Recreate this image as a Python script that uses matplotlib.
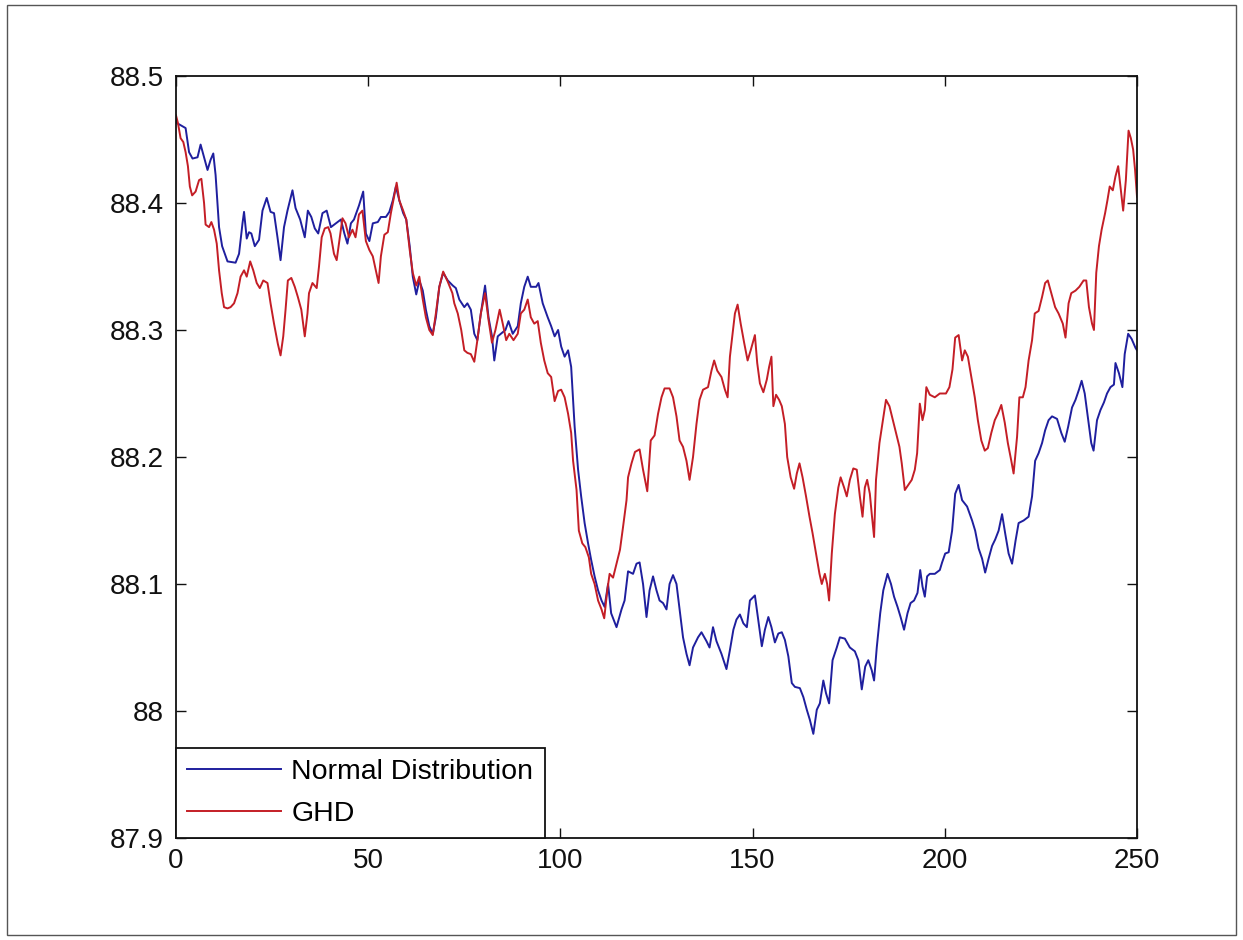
import matplotlib
matplotlib.use("Agg")
import matplotlib.pyplot as plt
from matplotlib.patches import Rectangle

# ---- data ----
normal_x = [0.0, 0.2, 2.5, 3.4, 4.3, 5.6, 6.4, 7.3, 8.2, 9.0, 9.7, 10.3, 11.2, 12.0, 13.4, 15.5, 16.4, 17.3,
            17.7, 18.4, 19.0, 19.6, 20.5, 21.6, 22.5, 23.6, 24.6, 25.5, 26.4, 27.2, 28.1, 29.0, 30.3, 31.1,
            32.3, 33.5, 34.3, 35.2, 36.1, 37.0, 38.1, 39.2, 40.3, 41.6, 42.9, 43.8, 44.6, 45.5, 46.3, 47.6,
            48.7, 49.4, 50.3, 51.2, 52.5, 53.3, 54.6, 55.5, 56.4, 57.2, 58.1, 59.1, 59.9, 60.8, 61.6, 62.5,
            63.3, 64.2, 65.0, 65.9, 66.8, 67.6, 68.5, 69.5, 70.7, 72.0, 72.8, 73.7, 75.0, 75.8, 76.7, 77.6,
            78.4, 79.3, 80.4, 81.3, 82.2, 82.8, 83.7, 84.5, 85.7, 86.5, 87.6, 88.9, 89.7, 90.6, 91.5, 92.3,
            93.7, 94.3, 95.4, 96.7, 97.6, 98.5, 99.4, 100.2, 101.1, 102.0, 102.8, 103.7, 104.6, 105.4,
            106.3, 107.2, 108.0, 108.9, 109.8, 110.7, 111.5, 112.4, 113.2, 114.6, 115.9, 116.7, 117.6,
            118.9, 119.8, 120.6, 121.5, 122.4, 123.2, 124.1, 125.0, 125.8, 126.7, 127.6, 128.4, 129.3,
            130.2, 131.0, 131.9, 132.8, 133.6, 134.5, 135.8, 136.7, 138.0, 138.8, 139.7, 140.6, 141.9,
            143.2, 144.1, 145.0, 145.8, 146.7, 147.6, 148.5, 149.3, 150.6, 151.5, 152.4, 153.2, 154.1,
            154.9, 155.8, 156.7, 157.6, 158.4, 159.3, 160.2, 161.0, 162.3, 163.2, 164.1, 164.9, 165.8,
            166.7, 167.5, 168.4, 169.1, 169.9, 170.8, 171.9, 172.7, 174.0, 175.3, 176.6, 177.5, 178.4,
            179.3, 180.1, 181.0, 181.6, 182.3, 183.2, 184.0, 185.1, 186.0, 186.8, 187.7, 188.5, 189.4,
            190.3, 191.1, 192.0, 192.9, 193.6, 194.2, 194.8, 195.4, 196.1, 197.4, 198.7, 199.3, 200.1,
            201.0, 201.9, 202.7, 203.6, 204.5, 205.8, 207.1, 207.9, 208.8, 209.7, 210.5, 211.4, 212.3,
            213.1, 214.0, 214.9, 215.7, 216.6, 217.5, 218.4, 219.2, 220.5, 221.8, 222.7, 223.5, 224.4,
            225.3, 226.1, 227.0, 227.9, 229.2, 230.3, 231.2, 232.1, 233.1, 234.0, 234.9, 235.6, 236.4,
            237.3, 238.1, 238.7, 239.6, 240.5, 241.4, 242.2, 243.1, 244.0, 244.4, 245.3, 246.2, 246.8,
            247.7, 248.6, 249.6, 250.0]
normal_y = [88.466, 88.463, 88.459, 88.440, 88.435, 88.436, 88.446, 88.436, 88.426, 88.434, 88.439, 88.422,
            88.381, 88.366, 88.354, 88.353, 88.360, 88.384, 88.393, 88.372, 88.377, 88.376, 88.366, 88.371,
            88.394, 88.404, 88.393, 88.392, 88.373, 88.355, 88.381, 88.394, 88.410, 88.396, 88.387, 88.373,
            88.394, 88.389, 88.380, 88.376, 88.392, 88.394, 88.381, 88.384, 88.387, 88.376, 88.368, 88.384,
            88.387, 88.398, 88.409, 88.376, 88.370, 88.384, 88.385, 88.389, 88.389, 88.393, 88.402, 88.413,
            88.402, 88.392, 88.387, 88.366, 88.342, 88.328, 88.339, 88.331, 88.316, 88.303, 88.297, 88.310,
            88.334, 88.345, 88.339, 88.335, 88.333, 88.324, 88.318, 88.321, 88.316, 88.297, 88.292, 88.313,
            88.335, 88.310, 88.295, 88.276, 88.295, 88.297, 88.300, 88.307, 88.297, 88.303, 88.321, 88.334,
            88.342, 88.334, 88.334, 88.337, 88.321, 88.310, 88.303, 88.295, 88.300, 88.287, 88.279, 88.284,
            88.271, 88.224, 88.190, 88.169, 88.148, 88.132, 88.119, 88.106, 88.095, 88.087, 88.082, 88.100,
            88.077, 88.066, 88.080, 88.087, 88.110, 88.108, 88.116, 88.117, 88.100, 88.074, 88.095, 88.106,
            88.095, 88.087, 88.085, 88.080, 88.100, 88.107, 88.100, 88.080, 88.058, 88.045, 88.036, 88.050,
            88.058, 88.062, 88.055, 88.050, 88.066, 88.055, 88.045, 88.033, 88.048, 88.064, 88.072, 88.076,
            88.069, 88.066, 88.087, 88.091, 88.071, 88.051, 88.064, 88.074, 88.066, 88.054, 88.061, 88.062,
            88.056, 88.043, 88.022, 88.019, 88.018, 88.011, 88.001, 87.993, 87.982, 88.001, 88.006, 88.024,
            88.014, 88.006, 88.040, 88.050, 88.058, 88.057, 88.050, 88.047, 88.040, 88.017, 88.035, 88.040,
            88.032, 88.024, 88.050, 88.077, 88.095, 88.108, 88.100, 88.090, 88.082, 88.074, 88.064, 88.077,
            88.085, 88.087, 88.093, 88.111, 88.098, 88.090, 88.106, 88.108, 88.108, 88.111, 88.117, 88.124,
            88.125, 88.142, 88.171, 88.178, 88.166, 88.161, 88.150, 88.142, 88.128, 88.120, 88.109, 88.120,
            88.130, 88.135, 88.142, 88.155, 88.140, 88.124, 88.116, 88.134, 88.148, 88.150, 88.153, 88.169,
            88.197, 88.203, 88.211, 88.221, 88.229, 88.232, 88.230, 88.219, 88.212, 88.224, 88.239, 88.245,
            88.253, 88.260, 88.250, 88.229, 88.211, 88.205, 88.229, 88.237, 88.243, 88.250, 88.255, 88.257,
            88.274, 88.266, 88.255, 88.281, 88.297, 88.293, 88.286, 88.284]

ghd_x = [0.0, 0.5, 1.2, 1.9, 2.5, 3.1, 3.6, 4.2, 5.1, 6.0, 6.6, 7.3, 7.7, 8.6, 9.2, 9.9, 10.6, 11.2, 11.9,
         12.5, 13.4, 14.2, 15.1, 16.0, 16.8, 17.7, 18.4, 19.3, 20.1, 21.0, 21.8, 22.7, 23.8, 24.6, 25.5,
         26.5, 27.2, 27.9, 28.5, 29.1, 30.0, 30.9, 31.7, 32.6, 33.5, 34.2, 34.6, 35.5, 36.6, 37.2, 37.9,
         38.7, 39.6, 40.2, 41.1, 41.8, 42.4, 43.3, 44.1, 45.0, 45.9, 46.7, 47.6, 48.5, 49.4, 50.3, 51.2,
         52.0, 52.7, 53.3, 54.2, 55.1, 55.9, 56.8, 57.4, 58.1, 59.1, 59.9, 60.8, 61.6, 62.5, 63.3, 64.2,
         65.0, 65.9, 66.8, 67.6, 68.5, 69.5, 70.7, 71.9, 72.4, 73.3, 74.2, 75.0, 75.8, 76.7, 77.6, 78.4,
         79.3, 80.4, 81.3, 82.2, 83.1, 84.2, 85.0, 85.9, 86.7, 87.8, 88.9, 89.7, 90.6, 91.5, 92.3, 93.2,
         94.1, 94.9, 95.8, 96.7, 97.6, 98.5, 99.4, 100.2, 101.1, 102.0, 102.8, 103.3, 104.2, 104.8, 105.7,
         106.5, 107.4, 108.0, 108.9, 109.8, 110.7, 111.4, 112.2, 112.8, 113.7, 114.6, 115.5, 116.3,
         117.2, 117.6, 118.5, 119.4, 120.6, 121.5, 122.6, 123.5, 124.5, 125.4, 126.3, 127.1, 128.4,
         129.3, 130.2, 131.0, 131.9, 132.8, 133.6, 134.5, 135.4, 136.2, 137.1, 138.4, 139.3, 140.0,
         140.8, 141.9, 142.8, 143.5, 144.1, 144.7, 145.4, 146.1, 146.9, 147.8, 148.7, 149.5, 150.6,
         151.2, 151.9, 152.8, 153.7, 154.3, 154.9, 155.4, 156.1, 156.9, 157.6, 158.4, 159.0, 159.9,
         160.8, 161.5, 162.2, 163.0, 163.9, 164.8, 165.6, 166.5, 167.4, 168.0, 168.8, 169.4, 169.9,
         170.6, 171.4, 172.3, 172.9, 173.8, 174.5, 175.3, 176.2, 177.1, 177.9, 178.6, 179.2, 179.8,
         180.5, 181.0, 181.6, 182.1, 183.0, 183.9, 184.7, 185.6, 186.5, 187.3, 188.2, 188.8, 189.6,
         190.5, 191.4, 192.2, 192.8, 193.5, 194.2, 194.8, 195.2, 196.1, 197.4, 198.7, 200.3, 201.2,
         202.0, 202.7, 203.6, 204.5, 205.2, 206.0, 206.9, 207.8, 208.6, 209.5, 210.4, 211.2, 212.1,
         213.0, 213.8, 214.7, 215.6, 216.4, 217.3, 217.9, 218.8, 219.4, 220.3, 221.0, 221.8, 222.7,
         223.4, 224.4, 225.3, 226.1, 226.8, 227.7, 228.7, 229.6, 230.7, 231.4, 232.2, 232.9, 234.0,
         235.0, 236.1, 236.8, 237.5, 238.3, 238.8, 239.4, 240.1, 240.8, 241.7, 242.3, 242.9, 243.7,
         244.4, 245.1, 245.8, 246.4, 247.1, 247.8, 248.4, 249.0, 249.5, 250.0]
ghd_y = [88.469, 88.463, 88.451, 88.448, 88.440, 88.429, 88.413, 88.406, 88.409, 88.418, 88.419, 88.400,
         88.383, 88.381, 88.385, 88.379, 88.368, 88.347, 88.329, 88.318, 88.317, 88.318, 88.321, 88.329,
         88.342, 88.347, 88.342, 88.354, 88.347, 88.337, 88.333, 88.339, 88.337, 88.321, 88.305, 88.289,
         88.280, 88.295, 88.316, 88.339, 88.341, 88.334, 88.326, 88.316, 88.295, 88.313, 88.329, 88.337,
         88.333, 88.350, 88.373, 88.380, 88.381, 88.376, 88.360, 88.355, 88.368, 88.388, 88.384, 88.373,
         88.379, 88.373, 88.391, 88.394, 88.370, 88.363, 88.358, 88.347, 88.337, 88.358, 88.375, 88.377,
         88.392, 88.406, 88.416, 88.402, 88.394, 88.387, 88.363, 88.345, 88.335, 88.342, 88.324, 88.310,
         88.300, 88.296, 88.313, 88.334, 88.346, 88.338, 88.329, 88.321, 88.313, 88.300, 88.284, 88.282,
         88.281, 88.275, 88.292, 88.313, 88.329, 88.308, 88.290, 88.300, 88.316, 88.305, 88.292, 88.297,
         88.292, 88.297, 88.313, 88.316, 88.324, 88.310, 88.305, 88.307, 88.290, 88.276, 88.266, 88.263,
         88.244, 88.252, 88.253, 88.247, 88.234, 88.219, 88.197, 88.174, 88.142, 88.132, 88.129, 88.121,
         88.108, 88.100, 88.087, 88.080, 88.073, 88.095, 88.108, 88.105, 88.116, 88.127, 88.145, 88.166,
         88.184, 88.195, 88.204, 88.206, 88.190, 88.173, 88.213, 88.217, 88.234, 88.247, 88.254, 88.254,
         88.247, 88.232, 88.213, 88.208, 88.197, 88.182, 88.200, 88.226, 88.245, 88.253, 88.255, 88.268,
         88.276, 88.268, 88.263, 88.253, 88.247, 88.279, 88.295, 88.313, 88.320, 88.305, 88.290, 88.276,
         88.284, 88.296, 88.274, 88.258, 88.251, 88.261, 88.271, 88.279, 88.240, 88.249, 88.245, 88.240,
         88.226, 88.200, 88.184, 88.175, 88.187, 88.195, 88.184, 88.169, 88.153, 88.140, 88.124, 88.108,
         88.100, 88.108, 88.100, 88.087, 88.124, 88.155, 88.176, 88.184, 88.176, 88.169, 88.182, 88.191,
         88.190, 88.169, 88.153, 88.176, 88.182, 88.171, 88.155, 88.137, 88.182, 88.211, 88.229, 88.245,
         88.240, 88.229, 88.219, 88.208, 88.195, 88.174, 88.178, 88.182, 88.190, 88.203, 88.242, 88.229,
         88.237, 88.255, 88.249, 88.247, 88.250, 88.250, 88.255, 88.269, 88.294, 88.296, 88.276, 88.284,
         88.279, 88.263, 88.247, 88.229, 88.213, 88.205, 88.207, 88.219, 88.229, 88.234, 88.241, 88.227,
         88.211, 88.197, 88.187, 88.216, 88.247, 88.247, 88.255, 88.276, 88.292, 88.313, 88.315, 88.326,
         88.337, 88.339, 88.329, 88.318, 88.313, 88.305, 88.294, 88.321, 88.329, 88.331, 88.334, 88.339,
         88.339, 88.318, 88.305, 88.300, 88.345, 88.366, 88.379, 88.392, 88.402, 88.413, 88.410, 88.421,
         88.429, 88.410, 88.394, 88.418, 88.457, 88.451, 88.442, 88.426, 88.405]

series_labels = ["Normal Distribution", "GHD"]
x_ticks = [0, 50, 100, 150, 200, 250]
y_ticks = [87.9, 88.0, 88.1, 88.2, 88.3, 88.4, 88.5]
y_tick_labels = ["87.9", "88", "88.1", "88.2", "88.3", "88.4", "88.5"]

# ---- figure ----
W, H = 1243, 940
fig = plt.figure(figsize=(W / 100, H / 100), dpi=100)
fig.patch.set_facecolor("white")
fig.patches.append(Rectangle((7 / W, 1 - 935 / H), (1236 - 7) / W, (935 - 5) / H,
                             transform=fig.transFigure, fill=False,
                             edgecolor="#555555", linewidth=1.0))

ax = fig.add_axes([176 / W, 1 - 838 / H, (1137 - 176) / W, (838 - 76) / H])
ax.plot(normal_x, normal_y, color="#1f1f9e", linewidth=1.4, label=series_labels[0])
ax.plot(ghd_x, ghd_y, color="#c41e26", linewidth=1.4, label=series_labels[1])

ax.set_xlim(0, 250)
ax.set_ylim(87.9, 88.5)
ax.set_xticks(x_ticks)
ax.set_xticklabels([str(t) for t in x_ticks])
ax.set_yticks(y_ticks)
ax.set_yticklabels(y_tick_labels)

font = "Liberation Sans"
for lab in ax.get_xticklabels() + ax.get_yticklabels():
    lab.set_fontfamily(font)
    lab.set_fontsize(20)
    lab.set_color("#111111")

ax.tick_params(axis="both", direction="in", length=7.5, width=1.0,
               top=True, right=True, colors="#111111")
ax.tick_params(axis="x", pad=7)
ax.tick_params(axis="y", pad=9)
for sp in ax.spines.values():
    sp.set_linewidth(1.3)
    sp.set_color("#111111")

leg = ax.legend(loc="lower left", borderaxespad=0, fancybox=False, frameon=True,
                prop={"family": font, "size": 20.5}, handlelength=3.3,
                handletextpad=0.35, borderpad=0.4, labelspacing=0.55)
leg.get_frame().set_edgecolor("#111111")
leg.get_frame().set_linewidth(1.3)
leg.get_frame().set_alpha(1)

fig.savefig("out.png", dpi=100, facecolor="white")
